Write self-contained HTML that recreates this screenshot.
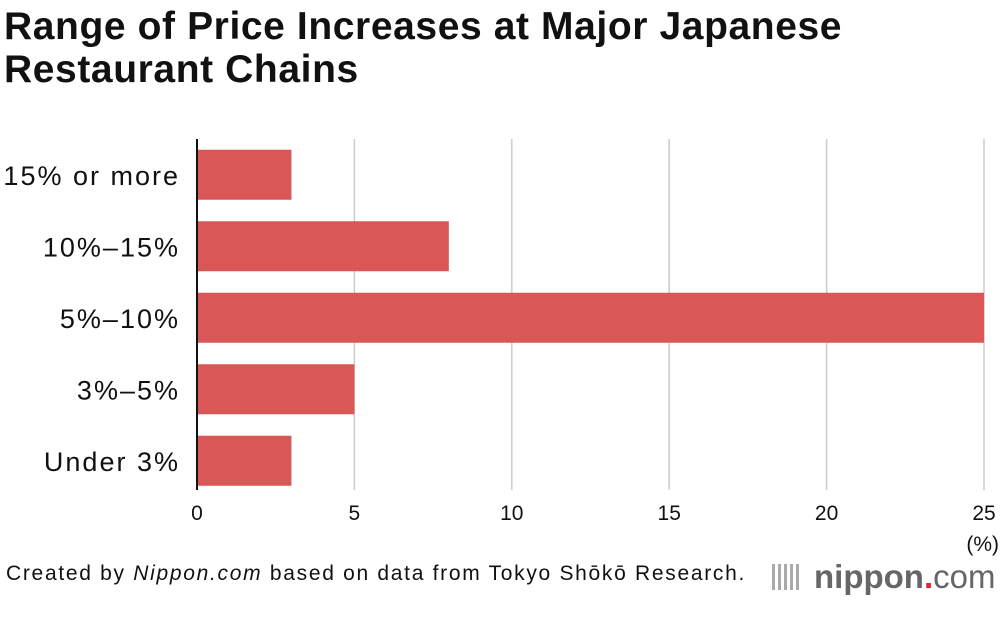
<!DOCTYPE html>
<html><head><meta charset="utf-8"><style>
body{margin:0;background:#fff;font-family:"Liberation Sans",sans-serif;}
#wrap{position:relative;width:1000px;height:618px;overflow:hidden;}
h1{position:absolute;left:4px;top:5px;margin:0;font-size:39px;line-height:43px;font-weight:bold;color:#111;letter-spacing:0.6px;white-space:nowrap;}
.foot{position:absolute;left:6px;top:562px;font-size:21px;color:#111;white-space:nowrap;letter-spacing:1.7px;}
.logo{position:absolute;left:772px;top:558px;font-size:33px;line-height:38px;color:#666;font-weight:bold;white-space:nowrap;}
</style></head><body>
<div id="wrap">
<h1>Range of Price Increases at Major Japanese<br>Restaurant Chains</h1>
<svg id="svg" width="1000" height="618" style="position:absolute;left:0;top:0"></svg>
<div class="foot">Created by <i>Nippon.com</i> based on data from Tokyo Shōkō Research.</div>
<div class="logo"><span style="display:inline-block;width:28px;height:26px;vertical-align:-2px;background:repeating-linear-gradient(90deg,#aaa 0 3px,transparent 3px 6px);margin-right:14px"></span>nippon<span style="color:#e8202a">.</span><span style="font-weight:normal">com</span></div>
</div>
<script>
const categories=["15% or more","10%–15%","5%–10%","3%–5%","Under 3%"];
const values=[3,8,25,5,3];
const ticks=[0,5,10,15,20,25];
const NS="http://www.w3.org/2000/svg";
const svg=document.getElementById('svg');
const x0=197,x1=984,xmax=25;
const xs=v=>x0+(x1-x0)*v/xmax;
const yTop=139,rowH=71.5,barH=50;
const yc=i=>yTop+rowH*i+rowH/2;
function mk(t,a){const e=document.createElementNS(NS,t);for(const k in a)e.setAttribute(k,a[k]);svg.appendChild(e);return e;}
ticks.forEach(t=>{
 if(t>0){const g=mk('line',{x1:xs(t),x2:xs(t),y1:139,y2:490,stroke:'#ccc','stroke-width':1.5});
 
 }
 const l=mk('text',{x:xs(t),y:520,'text-anchor':'middle','font-size':21,fill:'#111'});
 l.textContent=t;
 
 
});
const u=mk('text',{x:999,y:551,'text-anchor':'end','font-size':21,fill:'#111'});u.textContent='(%)';


categories.forEach((c,i)=>{
 const r=mk('rect',{x:x0,y:yc(i)-barH/2,width:xs(values[i])-x0,height:barH,fill:'#d95757'});
 
 
 const t=mk('text',{x:180,y:yc(i)+10,'text-anchor':'end','font-size':27,fill:'#111','letter-spacing':'2'});
 t.textContent=c;
 
 
});
const ax=mk('line',{x1:x0,x2:x0,y1:139,y2:490,stroke:'#111','stroke-width':2});


</script>
</body></html>
